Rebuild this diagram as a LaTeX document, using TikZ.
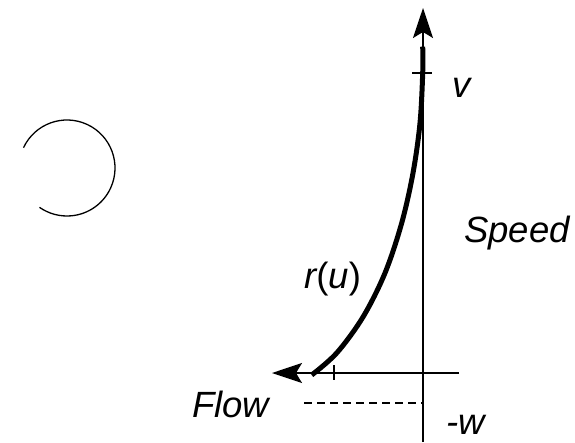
\documentclass[tikz,border=0pt]{standalone}
\usepackage{fontspec}
\setmainfont{Liberation Sans}
\usetikzlibrary{arrows.meta}
\begin{document}
\begin{tikzpicture}[x=1pt,y=-1pt,
  lbl/.style={inner sep=0pt, anchor=base west, font=\fontsize{36.5}{40}\selectfont\itshape},
  axis/.style={line width=1.5pt},
  tip/.style={-{Stealth[length=30pt,width=20pt,inset=6pt]}},
  curve/.style={line width=5pt, line cap=butt},
  tick/.style={line width=1.5pt}]
\useasboundingbox (0,0) rectangle (575,442);
% coordinates
\coordinate (ytop) at (423,8);
\coordinate (ybot) at (423,442);
\coordinate (xleft) at (272,373);
\coordinate (xright) at (459,373);
\coordinate (vtl) at (412,73);
\coordinate (vtr) at (432,73);
\coordinate (utt) at (334,365);
\coordinate (utb) at (334,380);
\coordinate (wl) at (304,403);
\coordinate (wr) at (423,403);
\coordinate (cc) at (67,168);
% axes
\draw[axis,tip] (ybot) -- (ytop);
\draw[axis,tip] (xright) -- (xleft);
\draw[tick] (vtl) -- (vtr);
\draw[tick] (utt) -- (utb);
\draw[line width=1.5pt, dash pattern=on 8pt off 5pt] (wl) -- (wr);
% curve r(u)
\draw[curve] plot[smooth, tension=0.55] coordinates {(422.7,46.7) (422.7,73) (420,123) (413,173) (401.7,223) (385,273) (363,317) (336.7,353) (311.7,375)};
% arc
\draw[line width=1.3pt] (cc) ++(205:48) arc[start angle=205, end angle=485, radius=48];
% labels
\node[lbl] (v) at (452,97) {v};
\node[lbl] (speed) at (464,242) {Speed};
\node[lbl] (ru) at (304,288) {r\upshape(\itshape u\upshape)};
\node[lbl] (flow) at (192,417) {Flow};
\node[lbl] (w) at (446,434) {-w};
\end{tikzpicture}
\end{document}
